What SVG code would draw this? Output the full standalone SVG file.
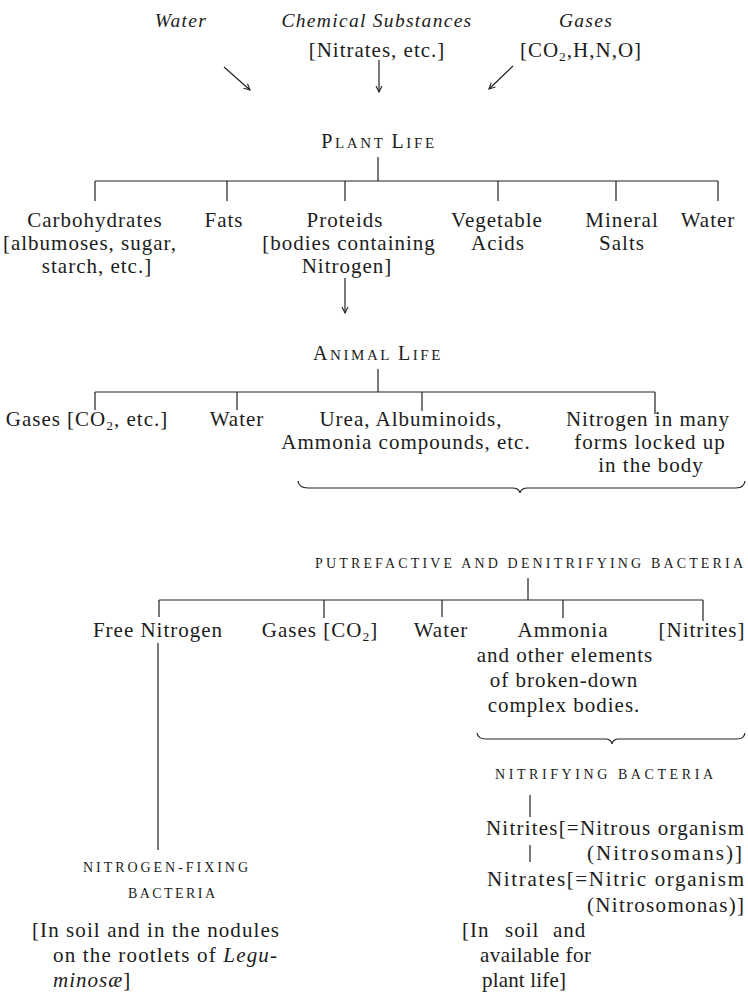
<svg xmlns="http://www.w3.org/2000/svg" width="748" height="993" viewBox="0 0 748 993">
<defs>
<marker id="ah" markerWidth="8" markerHeight="8" refX="7" refY="4" orient="auto" markerUnits="userSpaceOnUse"><path d="M1,1 L7,4 L1,7" fill="none" stroke="#222" stroke-width="1.1"/></marker>
<style>
text{font-family:"Liberation Serif","Times New Roman",serif;fill:#1c1c1c;font-size:21px;letter-spacing:1px}
.c{text-anchor:middle}
.i{font-style:italic;font-size:19.5px;letter-spacing:1.3px}
.sc{font-size:14px;letter-spacing:0}
.hd{letter-spacing:2.6px}
.cap{font-size:20px}
.sm{font-size:15px}
.sub{font-size:13.5px}
.ln{stroke:#222;stroke-width:1.2;fill:none}
.ar{stroke:#222;stroke-width:1.2;fill:none;marker-end:url(#ah)}
</style>
</defs>
<rect width="748" height="993" fill="#fff"/>

<g id="connectors">
<line class="ar" x1="224" y1="67" x2="250" y2="90"/>
<line class="ar" x1="379" y1="60" x2="379" y2="92"/>
<line class="ar" x1="513" y1="66" x2="489" y2="89"/>
<path class="ln" d="M378,157V181M95,181H718M95,181V201M227,181V201M345,181V201M498,181V201M616,181V201M718,181V201"/>
<line class="ar" x1="345" y1="278" x2="345" y2="313"/>
<path class="ln" d="M378,369V392M95,392H655M95,392V410M237,392V410M422,392V411M655,392V414"/>
<path class="ln" d="M298,481 Q299,488 308,488 L512,488 Q519,488 520,493 Q521,488 528,488 L736,488 Q744,488 745,481"/>
<path class="ln" d="M528,578V600M159,600H703M159,600V617M324,600V618M442,600V617M563,600V618M703,600V621"/>
<path class="ln" d="M158,643V850"/>
<path class="ln" d="M477,733 Q478,739 486,739 L605,739 Q611,739 612,744 Q613,739 619,739 L737,739 Q744,739 745,733"/>
<path class="ln" d="M530,795V817M530,845V862"/>
</g>

<g id="water-src"><text class="c i" x="181" y="27">Water</text></g>
<g id="chemical"><text class="c i" x="377" y="27">Chemical Substances</text><text class="c" x="377" y="57">[Nitrates, etc.]</text></g>
<g id="gases-src"><text class="c i" x="586" y="27">Gases</text><text class="c" x="581" y="57">[CO<tspan class="sub" dy="4">2</tspan><tspan dy="-4">,H,N,O]</tspan></text></g>

<g id="plant-life"><text class="c hd" x="379" y="148"><tspan class="cap">P</tspan><tspan class="sm">LANT </tspan><tspan class="cap">L</tspan><tspan class="sm">IFE</tspan></text></g>
<g id="carbohydrates"><text class="c" x="95" y="227">Carbohydrates</text><text class="c" x="90" y="250">[albumoses, sugar,</text><text class="c" x="97" y="273">starch, etc.]</text></g>
<g id="fats"><text class="c" x="224" y="227">Fats</text></g>
<g id="proteids"><text class="c" x="345" y="227">Proteids</text><text class="c" x="349" y="250">[bodies containing</text><text class="c" x="347" y="273">Nitrogen]</text></g>
<g id="vegetable-acids"><text class="c" x="497" y="227">Vegetable</text><text class="c" x="498" y="250">Acids</text></g>
<g id="mineral-salts"><text class="c" x="622" y="227">Mineral</text><text class="c" x="622" y="250">Salts</text></g>
<g id="water-plant"><text class="c" x="708" y="227">Water</text></g>

<g id="animal-life"><text class="c hd" x="378" y="360"><tspan class="cap">A</tspan><tspan class="sm">NIMAL </tspan><tspan class="cap">L</tspan><tspan class="sm">IFE</tspan></text></g>
<g id="gases-animal"><text class="c" x="87" y="426">Gases [CO<tspan class="sub" dy="4">2</tspan><tspan dy="-4">, etc.]</tspan></text></g>
<g id="water-animal"><text class="c" x="237" y="426">Water</text></g>
<g id="urea"><text class="c" x="411" y="426">Urea, Albuminoids,</text><text class="c" x="406" y="449">Ammonia compounds, etc.</text></g>
<g id="nitrogen-body"><text class="c" x="648" y="426">Nitrogen in many</text><text class="c" x="650" y="449">forms locked up</text><text class="c" x="651" y="472">in the body</text></g>

<g id="putrefactive"><text class="sc" x="315" y="568" textLength="428" lengthAdjust="spacing">PUTREFACTIVE AND DENITRIFYING BACTERIA</text></g>
<g id="free-nitrogen"><text class="c" x="158" y="637">Free Nitrogen</text></g>
<g id="gases-bact"><text class="c" x="320" y="637">Gases [CO<tspan class="sub" dy="4">2</tspan><tspan dy="-4">]</tspan></text></g>
<g id="water-bact"><text class="c" x="441" y="637">Water</text></g>
<g id="ammonia"><text class="c" x="563" y="637">Ammonia</text><text class="c" x="565" y="662">and other elements</text><text class="c" x="564" y="687">of broken-down</text><text class="c" x="564" y="712">complex bodies.</text></g>
<g id="nitrites-bact"><text class="c" x="702" y="637">[Nitrites]</text></g>

<g id="nitrifying"><text class="sc" x="495" y="779" textLength="218" lengthAdjust="spacing">NITRIFYING BACTERIA</text>
<text x="486" y="835" textLength="259" lengthAdjust="spacing">Nitrites[=Nitrous organism</text>
<text x="587" y="860" textLength="156" lengthAdjust="spacing">(Nitrosomans)]</text>
<text x="487" y="886" textLength="258" lengthAdjust="spacing">Nitrates[=Nitric organism</text>
<text x="587" y="912" textLength="158" lengthAdjust="spacing">(Nitrosomonas)]</text>
<text y="937"><tspan x="462">[In</tspan><tspan x="505">soil</tspan><tspan x="553">and</tspan></text>
<text x="480" y="962" textLength="112" lengthAdjust="spacing">available for</text>
<text x="482" y="987" textLength="85" lengthAdjust="spacing">plant life]</text>
</g>

<g id="nitrogen-fixing"><text class="sc" x="83" y="872" textLength="165" lengthAdjust="spacing">NITROGEN-FIXING</text><text class="sc" x="128" y="898" textLength="87" lengthAdjust="spacing">BACTERIA</text>
<text x="32" y="937" textLength="248" lengthAdjust="spacing">[In soil and in the nodules</text>
<text x="53" y="962" textLength="225" lengthAdjust="spacing">on the rootlets of <tspan font-style="italic">Legu-</tspan></text>
<text x="53" y="987"><tspan font-style="italic">minosæ</tspan>]</text>
</g>
</svg>
